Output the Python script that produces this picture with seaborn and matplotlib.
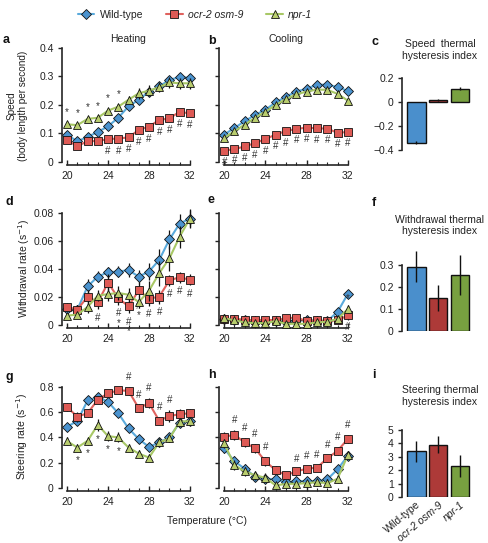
import matplotlib
matplotlib.use('Agg')
import matplotlib.pyplot as plt
import numpy as np
import seaborn as sns
from matplotlib.lines import Line2D
from matplotlib.ticker import FuncFormatter, MultipleLocator

# data
temps = list(range(20, 33))
genotypes = ['Wild-type', 'ocr-2 osm-9', 'npr-1']

# speed (body length per second), heating
speed_heat_wt = [0.095, 0.072, 0.088, 0.105, 0.125, 0.155, 0.195, 0.218, 0.247, 0.265, 0.288, 0.298, 0.295]
speed_heat_ocr = [0.076, 0.055, 0.073, 0.073, 0.080, 0.082, 0.086, 0.112, 0.124, 0.147, 0.153, 0.176, 0.170]
speed_heat_npr = [0.132, 0.129, 0.151, 0.155, 0.180, 0.194, 0.218, 0.241, 0.250, 0.262, 0.279, 0.276, 0.276]
speed_heat_wt_err = [0.008] * 13
speed_heat_ocr_err = [0.008] * 13
speed_heat_npr_err = [0.008, 0.008, 0.008, 0.008, 0.010, 0.010, 0.012, 0.020, 0.020, 0.018, 0.018, 0.020, 0.020]

# speed, cooling
speed_cool_wt = [0.096, 0.119, 0.143, 0.165, 0.183, 0.209, 0.229, 0.247, 0.257, 0.271, 0.271, 0.263, 0.249]
speed_cool_ocr = [0.039, 0.045, 0.054, 0.066, 0.080, 0.096, 0.108, 0.116, 0.120, 0.118, 0.117, 0.102, 0.105]
speed_cool_npr = [0.084, 0.108, 0.131, 0.155, 0.176, 0.200, 0.221, 0.237, 0.247, 0.254, 0.253, 0.239, 0.215]
speed_cool_err = [0.006] * 13

# withdrawal rate, heating
wd_heat_wt = [0.0114, 0.0107, 0.0273, 0.0344, 0.0375, 0.0380, 0.0390, 0.0344, 0.0380, 0.0463, 0.0610, 0.0724, 0.0760]
wd_heat_ocr = [0.0126, 0.0107, 0.0200, 0.0159, 0.0300, 0.0190, 0.0130, 0.0245, 0.0185, 0.0200, 0.0316, 0.0340, 0.0320]
wd_heat_npr = [0.0064, 0.0071, 0.0126, 0.0207, 0.0218, 0.0226, 0.0214, 0.0161, 0.0242, 0.0368, 0.0475, 0.0630, 0.0760]
wd_heat_wt_err = [0.003, 0.003, 0.005, 0.004, 0.004, 0.004, 0.005, 0.005, 0.006, 0.008, 0.007, 0.007, 0.007]
wd_heat_ocr_err = [0.003, 0.003, 0.005, 0.005, 0.006, 0.005, 0.005, 0.005, 0.005, 0.005, 0.004, 0.004, 0.004]
wd_heat_npr_err = [0.002, 0.002, 0.004, 0.004, 0.005, 0.005, 0.005, 0.004, 0.007, 0.009, 0.009, 0.008, 0.006]

# withdrawal rate, cooling
wd_cool_wt = [0.0040, 0.0035, 0.0030, 0.0025, 0.0020, 0.0025, 0.0020, 0.0030, 0.0030, 0.0025, 0.0025, 0.0090, 0.0220]
wd_cool_ocr = [0.0040, 0.0040, 0.0035, 0.0030, 0.0035, 0.0030, 0.0045, 0.0050, 0.0025, 0.0030, 0.0025, 0.0030, 0.0065]
wd_cool_npr = [0.0045, 0.0030, 0.0015, 0.0010, 0.0010, 0.0025, 0.0005, 0.0005, 0.0005, 0.0015, 0.0020, 0.0040, 0.0110]
wd_cool_err = [0.0012, 0.0012, 0.0012, 0.0012, 0.0012, 0.0012, 0.0012, 0.0012, 0.0012, 0.0012, 0.0012, 0.002, 0.003]

# steering rate, heating
st_heat_wt = [0.485, 0.530, 0.693, 0.720, 0.683, 0.592, 0.472, 0.387, 0.325, 0.360, 0.400, 0.517, 0.530]
st_heat_ocr = [0.640, 0.565, 0.592, 0.700, 0.750, 0.773, 0.770, 0.632, 0.672, 0.533, 0.570, 0.584, 0.592]
st_heat_npr = [0.370, 0.320, 0.373, 0.500, 0.410, 0.400, 0.320, 0.272, 0.240, 0.360, 0.392, 0.525, 0.530]
st_heat_wt_err = [0.02] * 13
st_heat_ocr_err = [0.03, 0.04, 0.03, 0.03, 0.02, 0.02, 0.03, 0.03, 0.04, 0.03, 0.05, 0.04, 0.03]
st_heat_npr_err = [0.03, 0.03, 0.03, 0.05, 0.04, 0.04, 0.03, 0.03, 0.03, 0.03, 0.03, 0.03, 0.03]

# steering rate, cooling
st_cool_wt = [0.313, 0.210, 0.152, 0.090, 0.072, 0.067, 0.045, 0.053, 0.053, 0.053, 0.067, 0.147, 0.254]
st_cool_ocr = [0.406, 0.420, 0.360, 0.313, 0.210, 0.140, 0.100, 0.130, 0.152, 0.160, 0.233, 0.294, 0.388]
st_cool_npr = [0.353, 0.180, 0.130, 0.100, 0.080, 0.019, 0.032, 0.032, 0.037, 0.045, 0.037, 0.072, 0.260]
st_cool_err = [0.035, 0.04, 0.035, 0.035, 0.035, 0.03, 0.025, 0.025, 0.025, 0.025, 0.03, 0.03, 0.035]

# hysteresis indices
speed_index = [-0.34, 0.015, 0.11]
speed_index_err = [0.012, 0.006, 0.012]
wd_index = [0.292, 0.150, 0.254]
wd_index_err = [0.07, 0.06, 0.09]
st_index = [3.4, 3.9, 2.3]
st_index_err = [0.8, 0.65, 0.8]

# significance marks (temperatures)
a_stars = [20, 21, 22, 23, 24, 25]
a_hash = [24, 25, 26, 27, 28, 29, 30, 31, 32]
b_hash = temps
d_hash = [23, 25, 26, 27, 28, 29, 30, 31, 32]
d_stars = [25, 26, 27]
e_stars = [32]
e_hash = [32]
g_hash = [26, 27, 28, 29, 30]
g_stars = [21, 22, 23, 24, 25]
h_hash = [21, 22, 23, 24, 27, 28, 29, 30, 31, 32]

line_cols = ['#5aaadc', '#e0625e', '#a8c866']
face_cols = ['#4b93cf', '#de5a55', '#b9cd6e']
bar_cols = ['#4a8fcc', '#ad3a38', '#78a040']
markers = ['D', 's', '^']
msizes = [5.5, 6, 6.2]

sns.set_style('ticks')
plt.rcParams['font.family'] = ['Liberation Sans', 'DejaVu Sans']
plt.rcParams['font.size'] = 7.5
plt.rcParams['axes.linewidth'] = 1.2
plt.rcParams['xtick.color'] = '#222222'
plt.rcParams['ytick.color'] = '#222222'
plt.rcParams['text.color'] = '#222222'

W, H = 489, 543
fig = plt.figure(figsize=(W / 100, H / 100), dpi=100)


def px_axes(left, top, right, bottom):
    return fig.add_axes([left / W, 1 - bottom / H, (right - left) / W, (bottom - top) / H])


def fmt(v, pos):
    s = '{:g}'.format(round(v, 4))
    return s.replace('-', '\u2212')


def line_panel(ax, series, errs, ylim, yticks, show_labels=True):
    for i, (vals, err) in enumerate(zip(series, errs)):
        ax.errorbar(temps, vals, yerr=err, fmt='none', ecolor='#111111', elinewidth=0.9,
                    capsize=0, zorder=2 + i, clip_on=False)
        sns.lineplot(x=temps, y=vals, ax=ax, color=line_cols[i], lw=1.5, marker=markers[i],
                     markersize=msizes[i], markerfacecolor=face_cols[i], markeredgecolor='#111111',
                     markeredgewidth=0.6, zorder=2.5 + i, clip_on=False)
    ax.set_xlim(19.5, 32.5)
    ax.set_ylim(*ylim)
    ax.set_xticks([20, 24, 28, 32])
    ax.xaxis.set_minor_locator(MultipleLocator(1))
    ax.set_yticks(yticks)
    ax.yaxis.set_major_formatter(FuncFormatter(fmt))
    ax.tick_params(axis='x', direction='in', length=3.5, width=1.0, pad=4)
    ax.tick_params(axis='x', which='minor', direction='in', length=2, width=0.8)
    ax.tick_params(axis='y', direction='out', length=3, width=1.0, pad=3)
    if not show_labels:
        ax.set_yticklabels([])
    ax.set_xlabel('')
    ax.set_ylabel('')
    sns.despine(ax=ax, trim=True)


def marks(ax, xs, series, errs, sym, off, below):
    for t in xs:
        k = temps.index(t)
        y = series[k] - errs[k] if below else series[k] + errs[k]
        ax.annotate(sym, (t, y), xytext=(0, off), textcoords='offset points',
                    ha='center', va='center', fontsize=7, color='#333333', annotation_clip=False)


def bar_panel(ax, vals, errs, ylim, yticks):
    sns.barplot(x=genotypes, y=vals, hue=genotypes, palette=bar_cols, legend=False, ax=ax,
                edgecolor='#111111', linewidth=1.0, width=0.86, saturation=1)
    ax.errorbar(range(3), vals, yerr=errs, fmt='none', ecolor='#111111', elinewidth=1.0,
                capsize=0, clip_on=False, zorder=5)
    ax.set_xlim(-0.64, 2.5)
    ax.set_ylim(*ylim)
    ax.set_yticks(yticks)
    ax.yaxis.set_major_formatter(FuncFormatter(fmt))
    ax.tick_params(axis='y', direction='out', length=3, width=1.0, pad=3)
    ax.set_xlabel('')
    ax.set_ylabel('')
    sns.despine(ax=ax, bottom=True, trim=True)
    ax.tick_params(axis='x', length=0)


# row 1: speed
ax_a = px_axes(62, 48, 195, 165)
line_panel(ax_a, [speed_heat_wt, speed_heat_ocr, speed_heat_npr],
           [speed_heat_wt_err, speed_heat_ocr_err, speed_heat_npr_err],
           (-0.011, 0.4), [0, 0.1, 0.2, 0.3, 0.4])
marks(ax_a, a_stars, speed_heat_npr, speed_heat_npr_err, '*', 7, False)
marks(ax_a, a_hash, speed_heat_ocr, speed_heat_ocr_err, '#', -7, True)
ax_a.set_title('Heating', fontsize=7.5, pad=4)

ax_b = px_axes(219, 48, 353, 165)
line_panel(ax_b, [speed_cool_wt, speed_cool_ocr, speed_cool_npr],
           [speed_cool_err] * 3, (-0.011, 0.4), [0, 0.1, 0.2, 0.3, 0.4], show_labels=False)
marks(ax_b, b_hash, speed_cool_ocr, speed_cool_err, '#', -7, True)
ax_b.set_title('Cooling', fontsize=7.5, pad=4)

ax_c = px_axes(402, 78, 471, 150)
bar_panel(ax_c, speed_index, speed_index_err, (-0.4, 0.2), [-0.4, -0.2, 0, 0.2])
ax_c.set_xticklabels([])
ax_c.set_title('Speed  thermal\nhysteresis index', fontsize=7.5, pad=14, x=0.55)

# row 2: withdrawal
ax_d = px_axes(62, 213, 195, 328)
line_panel(ax_d, [wd_heat_wt, wd_heat_ocr, wd_heat_npr],
           [wd_heat_wt_err, wd_heat_ocr_err, wd_heat_npr_err],
           (-0.0025, 0.08), [0, 0.02, 0.04, 0.06, 0.08])
marks(ax_d, d_hash, wd_heat_ocr, wd_heat_ocr_err, '#', -6, True)
marks(ax_d, d_stars, wd_heat_ocr, wd_heat_ocr_err, '*', -13, True)

ax_e = px_axes(219, 213, 353, 328)
line_panel(ax_e, [wd_cool_wt, wd_cool_ocr, wd_cool_npr], [wd_cool_err] * 3,
           (-0.0025, 0.08), [0, 0.02, 0.04, 0.06, 0.08], show_labels=False)
marks(ax_e, e_stars, wd_cool_npr, wd_cool_err, '*', 5, False)
marks(ax_e, e_hash, wd_cool_ocr, wd_cool_err, '#', -5, True)

ax_f = px_axes(402, 265, 471, 331)
bar_panel(ax_f, wd_index, wd_index_err, (0, 0.3), [0, 0.1, 0.2, 0.3])
ax_f.set_xticklabels([])
ax_f.set_title('Withdrawal thermal\nhysteresis index', fontsize=7.5, pad=22, x=0.55)

# row 3: steering
ax_g = px_axes(62, 387, 195, 491)
line_panel(ax_g, [st_heat_wt, st_heat_ocr, st_heat_npr],
           [st_heat_wt_err, st_heat_ocr_err, st_heat_npr_err],
           (-0.025, 0.8), [0, 0.2, 0.4, 0.6, 0.8])
marks(ax_g, g_hash, st_heat_ocr, st_heat_ocr_err, '#', 7, False)
marks(ax_g, g_stars, st_heat_npr, st_heat_npr_err, '*', -6, True)

ax_h = px_axes(219, 387, 353, 491)
line_panel(ax_h, [st_cool_wt, st_cool_ocr, st_cool_npr], [st_cool_err] * 3,
           (-0.025, 0.8), [0, 0.2, 0.4, 0.6, 0.8], show_labels=False)
marks(ax_h, h_hash, st_cool_ocr, st_cool_err, '#', 7, False)

ax_i = px_axes(402, 430, 471, 497)
bar_panel(ax_i, st_index, st_index_err, (0, 5), [0, 1, 2, 3, 4, 5])
ax_i.set_xticks(range(3))
ax_i.set_xticklabels(genotypes, rotation=40, ha='right', rotation_mode='anchor', fontsize=7.5)
for lab in ax_i.get_xticklabels()[1:]:
    lab.set_fontstyle('italic')
ax_i.tick_params(axis='x', pad=2)
ax_i.set_title('Steering thermal\nhysteresis index', fontsize=7.5, pad=18, x=0.55)

# axis labels
fig.text(17 / W, 1 - 106 / H, 'Speed\n(body length per second)', rotation=90,
         ha='center', va='center', multialignment='center', fontsize=7.2)
fig.text(24 / W, 1 - 268 / H, 'Withdrawal rate (s$^{-1}$)', rotation=90,
         ha='center', va='center', fontsize=7.5)
fig.text(22 / W, 1 - 437 / H, 'Steering rate (s$^{-1}$)', rotation=90,
         ha='center', va='center', fontsize=7.5)
fig.text(207 / W, 1 - 521 / H, 'Temperature (\u00b0C)', ha='center', va='center', fontsize=7.5)

# panel letters
for letter, x, y in [('a', 3, 40), ('b', 208, 41), ('c', 372, 42),
                     ('d', 5, 202), ('e', 208, 200), ('f', 372, 203),
                     ('g', 5, 377), ('h', 208, 375), ('i', 372, 375)]:
    fig.text(x / W, 1 - y / H, letter, fontsize=9, fontweight='bold', ha='left', va='center',
             color='#111111')

# legend
handles = [Line2D([0], [0], color=line_cols[i], lw=1.5, marker=markers[i], markersize=msizes[i],
                  markerfacecolor=face_cols[i], markeredgecolor='#111111', markeredgewidth=0.6)
           for i in range(3)]
leg = fig.legend(handles, genotypes, loc='center', bbox_to_anchor=(195 / W, 1 - 15 / H), ncol=3,
                 frameon=False, fontsize=7.5, handlelength=1.6, columnspacing=2.2, handletextpad=0.5)
for t in leg.get_texts()[1:]:
    t.set_fontstyle('italic')

fig.savefig('out.png', dpi=100)
